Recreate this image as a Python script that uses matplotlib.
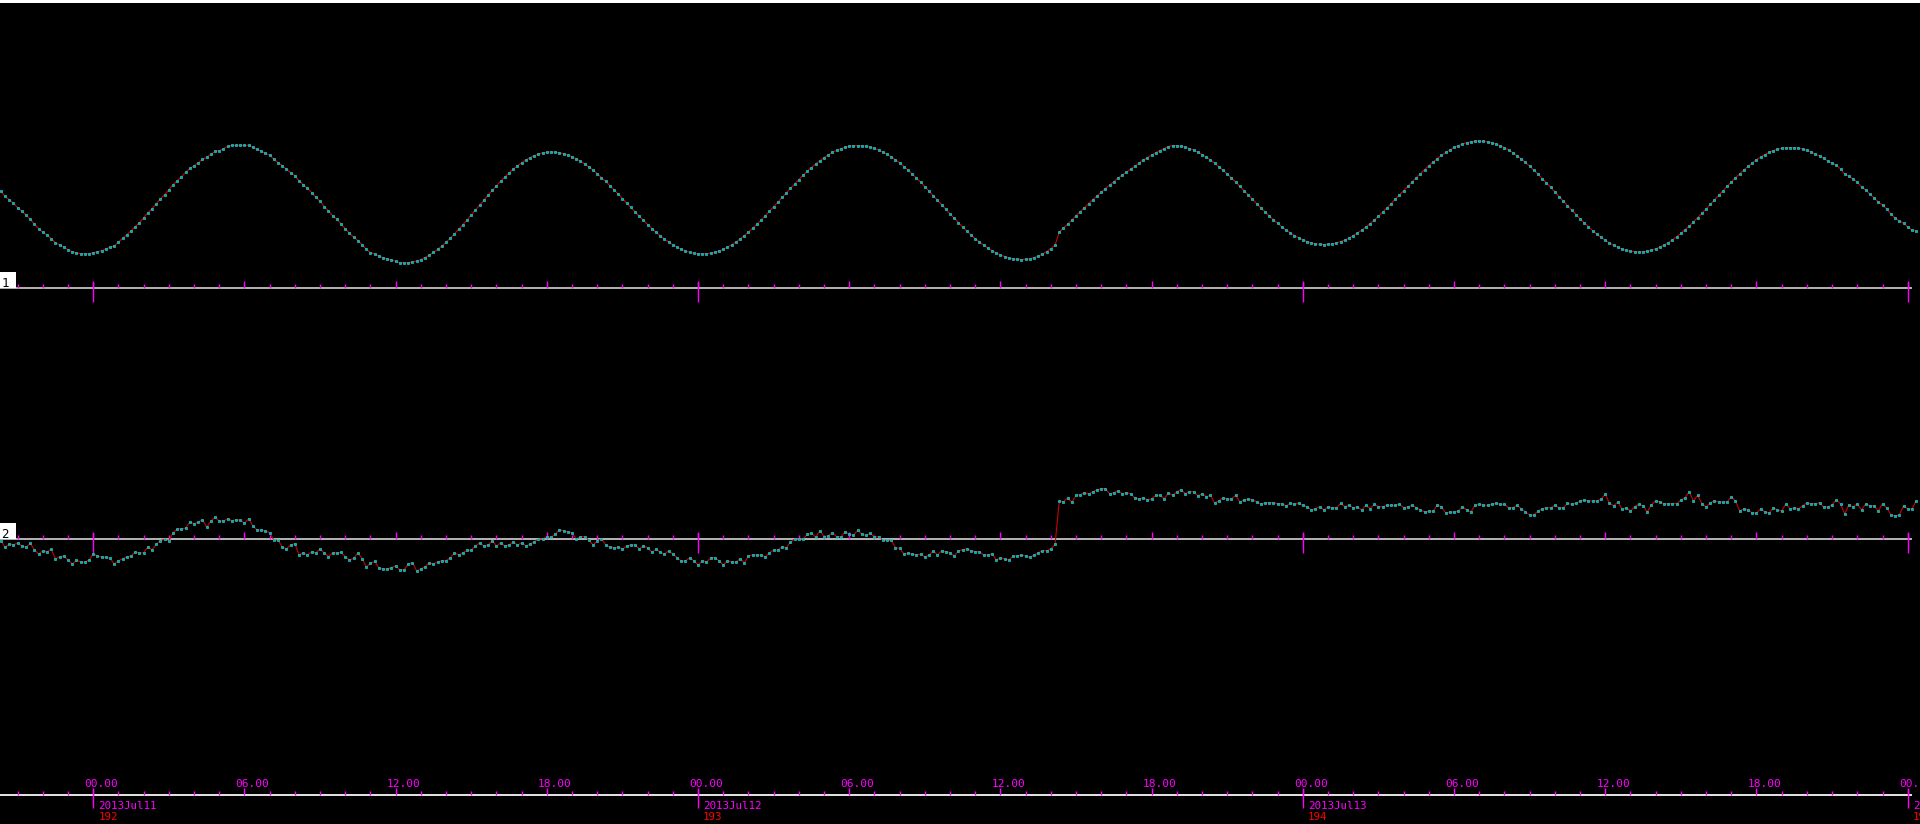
import numpy as np
import pandas as pd
import matplotlib
matplotlib.use('Agg')
import matplotlib.pyplot as plt
import matplotlib.dates as mdates
from matplotlib.patches import Rectangle
from matplotlib.transforms import blended_transform_factory

# gauge 1 and gauge 2 levels, one value every 10 min from 2013-07-10 20:20
level_1 = [96.7, 91.7, 88.3, 84.7,
           80.3, 76.7, 72.7, 68.7, 63.7, 59.3,
           56.0, 52.7, 49.3, 45.3, 43.0, 41.0,
           38.3, 36.3, 35.0, 34.3, 34.3, 34.3,
           35.3, 36.3, 37.3, 39.3, 40.7, 42.3,
           46.0, 49.7, 53.3, 57.3, 61.3, 65.3,
           70.3, 75.3, 79.3, 84.3, 89.3, 93.3,
           98.3, 103.3, 107.3, 111.3, 115.7, 119.7,
           122.3, 125.3, 128.7, 130.7, 133.7, 136.7,
           137.3, 139.3, 141.7, 142.7, 142.7, 142.7,
           142.7, 142.7, 140.7, 138.7, 136.7, 134.7,
           132.7, 128.7, 125.3, 122.3, 118.7, 115.3,
           112.3, 107.3, 103.3, 99.7, 95.3, 90.7,
           86.7, 81.3, 76.7, 72.3, 68.7, 64.0,
           59.3, 54.7, 50.7, 47.3, 43.3, 38.7,
           35.3, 34.0, 32.0, 30.3, 29.3, 28.0,
           26.7, 25.3, 25.0, 25.2, 25.9, 27.0,
           28.5, 30.5, 32.9, 35.6, 38.7, 42.2,
           45.9, 49.9, 54.2, 58.7, 63.4, 68.1,
           73.0, 78.0, 83.0, 87.9, 92.9, 97.6,
           102.3, 106.8, 111.1, 115.1, 119.0, 122.3,
           125.4, 128.1, 130.5, 132.5, 134.0, 135.1,
           135.8, 136.0, 135.8, 135.2, 134.3, 132.9,
           131.2, 129.2, 126.8, 124.1, 121.1, 117.8,
           114.3, 110.5, 106.6, 102.4, 98.2, 93.9,
           89.4, 85.0, 80.6, 76.1, 71.8, 67.6,
           63.4, 59.5, 55.7, 52.2, 48.9, 45.9,
           43.2, 40.8, 38.8, 37.1, 35.7, 34.8,
           34.2, 34.0, 34.2, 34.8, 35.7, 37.1,
           38.8, 40.9, 43.3, 46.0, 49.1, 52.4,
           56.0, 59.8, 63.8, 68.0, 72.4, 76.8,
           81.4, 86.0, 90.6, 95.1, 99.7, 104.1,
           108.5, 112.7, 116.7, 120.5, 124.1, 127.4,
           130.5, 133.2, 135.6, 137.7, 139.4, 140.8,
           141.7, 142.3, 142.5, 142.3, 141.8, 140.8,
           139.6, 137.9, 136.0, 133.7, 131.1, 128.2,
           125.0, 121.5, 117.9, 114.0, 109.9, 105.7,
           101.4, 96.9, 92.4, 87.8, 83.2, 78.6,
           74.1, 69.6, 65.3, 61.1, 57.0, 53.1,
           49.4, 46.0, 42.8, 39.9, 37.3, 35.0,
           33.1, 31.4, 30.1, 29.2, 28.7, 28.5,
           28.7, 29.3, 30.5, 32.0, 34.0, 36.5,
           39.5, 43.0, 56.0, 60.0, 64.0, 68.0,
           72.5, 76.5, 80.5, 84.5, 88.5, 92.0,
           96.0, 99.5, 103.0, 106.5, 110.0, 113.0,
           116.0, 119.0, 122.0, 125.0, 128.0, 130.5,
           133.0, 135.5, 137.5, 139.5, 141.5, 142.5,
           142.3, 141.7, 140.8, 139.5, 137.9, 135.9,
           133.5, 130.9, 128.0, 124.8, 121.4, 117.8,
           113.9, 110.0, 105.9, 101.6, 97.3, 93.0,
           88.7, 84.4, 80.1, 76.1, 72.1, 68.3,
           64.6, 61.2, 58.0, 55.1, 52.5, 50.1,
           48.1, 46.5, 45.2, 44.2, 43.7, 43.5,
           43.7, 44.2, 45.2, 46.5, 48.1, 50.1,
           52.4, 55.0, 57.9, 61.1, 64.5, 68.1,
           71.9, 75.9, 80.1, 84.4, 88.7, 93.1,
           97.4, 101.8, 106.1, 110.4, 114.5, 118.5,
           122.4, 126.0, 129.4, 132.6, 135.6, 138.2,
           140.6, 142.4, 144.0, 145.3, 146.3, 146.8,
           147.0, 146.8, 146.2, 145.3, 144.0, 142.3,
           140.3, 138.0, 135.3, 132.3, 129.1, 125.6,
           121.8, 117.9, 113.8, 109.5, 105.1, 100.6,
           96.1, 91.5, 86.9, 82.4, 77.9, 73.5,
           69.2, 65.1, 61.2, 57.4, 53.9, 50.7,
           47.7, 45.0, 42.7, 40.7, 39.0, 37.7,
           36.8, 36.2, 36.0, 36.2, 36.8, 37.8,
           39.2, 40.9, 43.0, 45.4, 48.2, 51.3,
           54.7, 58.3, 62.1, 66.2, 70.4, 74.7,
           79.2, 83.7, 88.3, 92.8, 97.3, 101.8,
           106.1, 110.3, 114.3, 118.2, 121.7, 125.2,
           128.3, 131.0, 133.5, 135.6, 137.4, 138.7,
           139.7, 140.3, 140.5, 140.3, 140.0, 139.0,
           137.7, 136.0, 134.0, 132.0, 130.0, 126.7,
           125.0, 123.0, 119.0, 114.0, 111.7, 109.0,
           106.0, 101.0, 98.0, 94.0, 90.0, 86.0,
           83.0, 79.0, 74.0, 70.0, 67.0, 65.0,
           61.0, 58.0, 57.0]

level_2 = [-1.7, -8.3, -5.0, -6.0,
           -3.7, -7.0, -8.3, -4.3, -11.0, -15.0,
           -11.7, -12.7, -10.3, -20.0, -17.7, -17.0,
           -21.0, -25.0, -21.0, -23.0, -23.0, -21.0,
           -15.0, -17.0, -18.0, -18.0, -19.3, -25.0,
           -21.7, -20.0, -17.7, -17.0, -12.7, -14.3,
           -13.7, -7.7, -11.0, -5.0, -1.7, -0.3,
           -1.7, 6.3, 10.0, 10.0, 11.0, 17.0,
           15.3, 17.0, 19.3, 11.7, 18.0, 21.7,
           18.0, 18.0, 20.3, 18.3, 19.3, 18.7,
           16.0, 20.3, 13.3, 9.0, 9.0, 8.3,
           6.0, -1.0, -1.3, -8.0, -10.0, -5.7,
           -4.7, -16.0, -13.7, -16.0, -12.7, -13.7,
           -10.0, -14.0, -17.7, -13.7, -14.0, -13.3,
           -17.7, -21.0, -19.3, -13.7, -19.7, -28.0,
           -24.3, -22.3, -29.0, -30.0, -30.0, -28.7,
           -26.7, -31.0, -31.0, -25.0, -23.7, -32.0,
           -30.0, -27.7, -23.7, -25.0, -22.7, -21.7,
           -21.7, -18.7, -13.7, -16.0, -13.7, -11.3,
           -11.0, -7.0, -3.7, -7.0, -6.0, -1.7,
           -7.0, -3.7, -7.0, -6.0, -2.7, -6.0,
           -3.7, -7.0, -5.0, -2.7, 0.0, 0.0,
           2.3, 1.7, 5.0, 9.3, 8.0, 7.3,
           6.0, 0.0, 2.3, 2.3, -1.3, -6.0,
           -2.0, 0.3, -6.0, -8.0, -9.0, -8.0,
           -10.0, -7.0, -6.0, -6.0, -10.0, -6.7,
           -9.0, -13.0, -10.3, -13.3, -15.0, -11.7,
           -15.0, -18.7, -22.0, -22.0, -18.7, -21.7,
           -26.0, -21.7, -23.0, -18.7, -18.7, -21.7,
           -26.0, -21.7, -23.0, -23.0, -19.7, -24.0,
           -16.7, -16.0, -16.0, -16.0, -18.0, -13.7,
           -11.0, -11.0, -7.7, -8.7, -3.0, 0.0,
           0.0, 0.0, 4.7, 5.7, 1.7, 8.3,
           2.3, 3.3, 6.3, 2.3, 2.3, 7.3,
           4.7, 3.7, 8.7, 4.7, 3.7, 5.7,
           2.3, 2.3, -1.3, -1.3, -1.3, -8.7,
           -9.3, -15.0, -14.0, -15.0, -16.0, -15.0,
           -18.0, -16.0, -11.7, -16.0, -11.7, -12.7,
           -13.7, -17.0, -11.7, -10.7, -9.7, -11.7,
           -12.7, -12.7, -16.0, -16.0, -14.7, -21.0,
           -18.7, -20.0, -21.0, -17.0, -17.0, -16.0,
           -17.0, -18.3, -16.0, -13.7, -11.7, -11.7,
           -10.0, -5.0, 38.3, 37.0, 41.3, 36.7,
           43.7, 44.3, 46.3, 45.0, 47.3, 49.3,
           50.3, 50.3, 45.3, 46.3, 48.3, 45.3,
           46.3, 45.3, 41.0, 40.0, 41.3, 39.0,
           40.3, 43.7, 43.7, 40.0, 46.3, 43.7,
           47.3, 49.3, 45.3, 47.3, 47.3, 43.3,
           45.3, 42.3, 43.7, 36.0, 38.3, 41.3,
           40.0, 40.0, 43.7, 37.0, 39.3, 40.0,
           39.3, 37.0, 35.0, 36.3, 36.3, 36.3,
           35.3, 35.3, 33.0, 35.7, 34.7, 35.7,
           33.7, 32.3, 29.0, 30.3, 32.3, 29.0,
           32.3, 31.3, 31.3, 35.7, 32.3, 33.7,
           31.3, 32.3, 29.0, 33.7, 30.3, 34.7,
           32.3, 32.3, 33.7, 33.7, 33.7, 34.7,
           31.3, 32.3, 33.7, 31.3, 29.0, 27.0,
           28.0, 28.0, 33.7, 32.3, 26.0, 27.0,
           27.0, 28.0, 32.3, 29.0, 27.0, 33.7,
           34.7, 33.7, 33.7, 34.7, 35.7, 34.7,
           34.7, 31.3, 31.3, 33.7, 30.3, 27.0,
           24.0, 24.0, 28.0, 30.3, 31.3, 31.3,
           33.7, 31.3, 31.3, 35.7, 34.7, 35.7,
           38.0, 39.0, 38.0, 38.0, 38.0, 40.0,
           44.7, 35.7, 33.3, 37.0, 30.0, 31.3,
           28.0, 32.3, 34.7, 33.3, 27.0, 34.3,
           38.3, 37.0, 35.3, 35.3, 35.3, 35.3,
           39.0, 41.3, 47.3, 38.0, 43.7, 35.3,
           32.0, 36.3, 38.3, 37.0, 37.0, 37.0,
           42.3, 38.3, 28.0, 30.3, 29.0, 26.0,
           26.0, 30.3, 27.0, 26.0, 31.3, 29.0,
           28.0, 35.3, 30.0, 31.3, 30.0, 33.3,
           36.3, 35.3, 35.3, 36.3, 32.0, 32.0,
           34.3, 39.3, 35.3, 25.0, 34.3, 32.0,
           35.3, 29.0, 35.3, 33.3, 33.3, 28.0,
           35.3, 31.3, 24.0, 23.0, 24.0, 33.3,
           30.0, 30.0, 38.3]

panel_names = ['1', '2']
day_labels = ['2013Jul11', '2013Jul12', '2013Jul13', '2013Jul14']
day_numbers = ['192', '193', '194', '195']

assert len(level_1) == len(level_2) == 457

times = pd.date_range('2013-07-10 20:20', periods=len(level_1), freq='10min')
t = mdates.date2num(times.to_pydatetime())
days = mdates.date2num(pd.date_range('2013-07-11', periods=len(day_labels), freq='D').to_pydatetime())
xlim = mdates.date2num([pd.Timestamp('2013-07-10 20:17:54').to_pydatetime(),
                        pd.Timestamp('2013-07-14 00:29:17').to_pydatetime()])
line_end = mdates.date2num(pd.Timestamp('2013-07-14 00:07:50').to_pydatetime())

W, H = 1920, 824
MAG = '#ff00ff'
plt.rcParams['font.family'] = ['DejaVu Sans Mono']

fig = plt.figure(figsize=(W / 100, H / 100), dpi=100, facecolor='black')


def px_axes(top, bottom, base, line_color):
    # axes over image rows top..bottom, 1 y unit = 1 px, y=0 at row base
    ax = fig.add_axes([0, 1 - bottom / H, 1, (bottom - top) / H])
    ax.set_xlim(xlim)
    ax.set_ylim(base - bottom, base - top)
    ax.patch.set_alpha(0)
    for s in ['left', 'right', 'bottom']:
        ax.spines[s].set_visible(False)
    sp = ax.spines['top']
    sp.set_position(('data', 0))
    sp.set_bounds(xlim[0], line_end)
    sp.set_color(line_color)
    sp.set_linewidth(1.4)
    sp.set_zorder(1)
    ax.xaxis.set_ticks_position('top')
    ax.xaxis.set_major_locator(mdates.HourLocator(byhour=[0, 6, 12, 18]))
    ax.xaxis.set_minor_locator(mdates.HourLocator())
    ax.tick_params(axis='x', which='both', direction='out', color=MAG, width=1.0,
                   labeltop=False, labelbottom=False)
    ax.tick_params(axis='x', which='major', length=5.0)
    ax.tick_params(axis='x', which='minor', length=3.0)
    ax.set_yticks([])
    return ax


# the two gauge panels
for name, level, rows in zip(panel_names, [level_1, level_2], [(4, 310, 288), (320, 620, 539)]):
    ax = px_axes(*rows, line_color='#b4b4b4')
    ax.plot(t, level, color='#cc0000', lw=0.8, marker='s', ms=1.8,
            mfc='#1a9a9a', mec='#10e0e0', mew=0.45, zorder=3)
    ax.vlines(days, -14, 6, color=MAG, lw=1.0, zorder=2)
    tr = blended_transform_factory(ax.transAxes, ax.transData)
    ax.add_patch(Rectangle((0, 0), 16 / W, 16.5, transform=tr, facecolor='white',
                           edgecolor='none', zorder=4))
    ax.text(1.5 / W, 0.8, name, transform=tr, color='black', fontsize=9,
            ha='left', va='baseline', zorder=5)

# time axis at the bottom
axt = px_axes(700, 824, 795, line_color='#e6e6e6')
axt.vlines(days, -13, 6, color=MAG, lw=1.0)
for x in axt.xaxis.get_majorticklocs():
    axt.annotate(mdates.num2date(x).strftime('%H.%M'), (x, 0), xytext=(5.8, 6.0),
                 textcoords='offset points', ha='center', va='baseline',
                 color=MAG, fontsize=8)
for x, lab, num in zip(days, day_labels, day_numbers):
    axt.annotate(lab, (x, 0), xytext=(3.6, -10.2), textcoords='offset points',
                 ha='left', va='baseline', color=MAG, fontsize=7.8)
    axt.annotate(num, (x, 0), xytext=(3.6, -18.2), textcoords='offset points',
                 ha='left', va='baseline', color='#ff0000', fontsize=7.8)

# thin white strip along the top edge
fig.add_artist(Rectangle((0, 1 - 3 / H), 1, 3 / H, transform=fig.transFigure,
                         facecolor='white', edgecolor='none'))

fig.savefig('out.png', dpi=100, facecolor='black')
